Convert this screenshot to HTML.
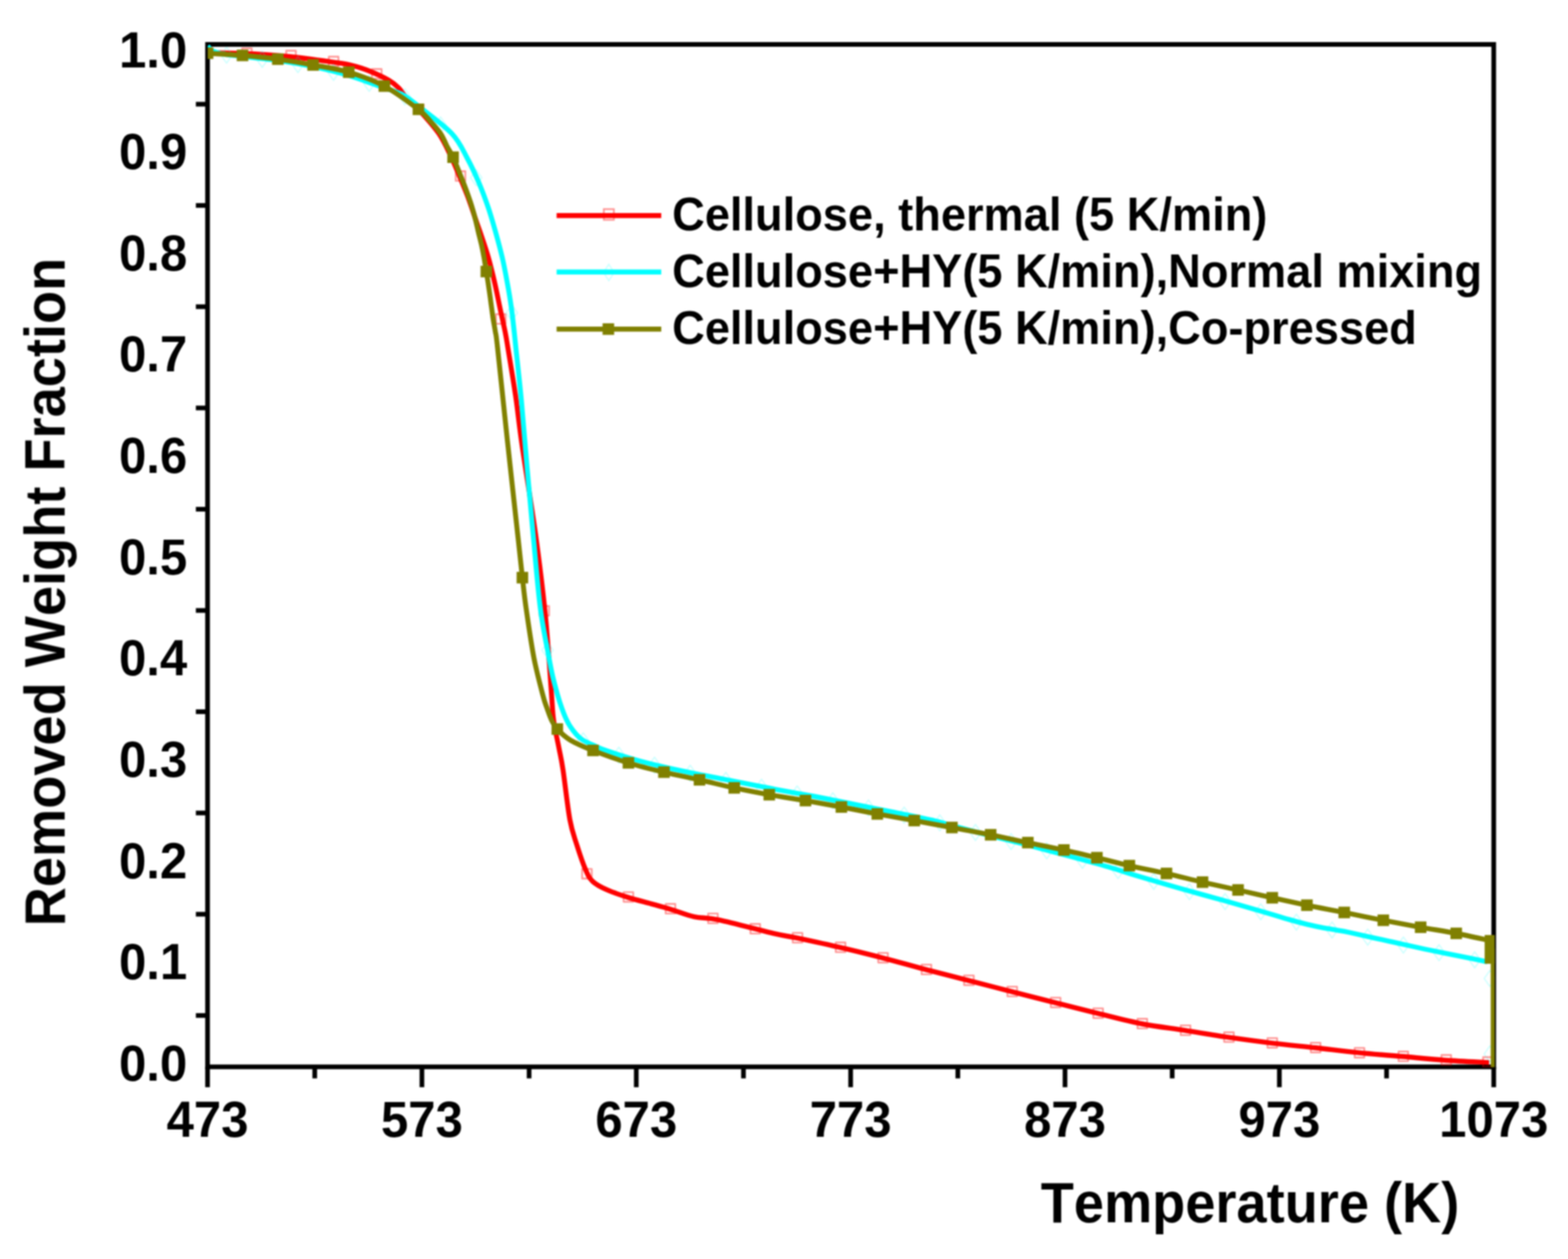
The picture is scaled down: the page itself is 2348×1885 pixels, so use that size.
<!DOCTYPE html>
<html lang="en">
<head>
<meta charset="utf-8">
<title>Removed Weight Fraction vs Temperature</title>
<style>
html,body{margin:0;padding:0;background:#fff;}
body{width:2348px;height:1885px;overflow:hidden;}
svg{display:block;}
</style>
</head>
<body>
<svg width="2348" height="1885" viewBox="0 0 2348 1885">
<rect x="0" y="0" width="2348" height="1885" fill="#fff"/>
<defs><filter id="soft" filterUnits="userSpaceOnUse" x="0" y="0" width="2348" height="1885" color-interpolation-filters="sRGB"><feGaussianBlur stdDeviation="0.8"/></filter></defs>
<g filter="url(#soft)">
<g stroke="#000" stroke-width="7.0" fill="none" stroke-linecap="butt">
<rect x="310.8" y="66.5" width="1926.0000000000002" height="1530.8"/>
<line x1="310.8" y1="1597.3" x2="310.8" y2="1627.8"/>
<line x1="471.3" y1="1597.3" x2="471.3" y2="1614.6"/>
<line x1="631.8" y1="1597.3" x2="631.8" y2="1627.8"/>
<line x1="792.3" y1="1597.3" x2="792.3" y2="1614.6"/>
<line x1="952.8" y1="1597.3" x2="952.8" y2="1627.8"/>
<line x1="1113.3" y1="1597.3" x2="1113.3" y2="1614.6"/>
<line x1="1273.8" y1="1597.3" x2="1273.8" y2="1627.8"/>
<line x1="1434.3" y1="1597.3" x2="1434.3" y2="1614.6"/>
<line x1="1594.8" y1="1597.3" x2="1594.8" y2="1627.8"/>
<line x1="1755.3" y1="1597.3" x2="1755.3" y2="1614.6"/>
<line x1="1915.8" y1="1597.3" x2="1915.8" y2="1627.8"/>
<line x1="2076.3" y1="1597.3" x2="2076.3" y2="1614.6"/>
<line x1="2236.8" y1="1597.3" x2="2236.8" y2="1627.8"/>
<line x1="293.3" y1="156.0" x2="310.8" y2="156.0"/>
<line x1="293.3" y1="307.6" x2="310.8" y2="307.6"/>
<line x1="293.3" y1="459.2" x2="310.8" y2="459.2"/>
<line x1="293.3" y1="610.8" x2="310.8" y2="610.8"/>
<line x1="293.3" y1="762.4" x2="310.8" y2="762.4"/>
<line x1="293.3" y1="914.0" x2="310.8" y2="914.0"/>
<line x1="293.3" y1="1065.6" x2="310.8" y2="1065.6"/>
<line x1="293.3" y1="1217.2" x2="310.8" y2="1217.2"/>
<line x1="293.3" y1="1368.8" x2="310.8" y2="1368.8"/>
<line x1="293.3" y1="1520.4" x2="310.8" y2="1520.4"/>
</g>
<defs><clipPath id="plot"><rect x="311.0" y="66.9" width="1927.1999999999998" height="1530.8"/></clipPath></defs>
<g clip-path="url(#plot)">
<g fill="none" stroke-linejoin="round" stroke-linecap="butt">
<path d="M308.0,78.5C317.2,78.8 347.7,79.4 363.0,80.0C378.3,80.6 388.2,81.2 400.0,82.0C411.8,82.8 422.4,83.7 433.6,84.8C444.8,85.9 458.4,87.5 467.0,88.6C475.6,89.7 476.2,89.8 485.5,91.2C494.8,92.6 511.5,94.3 522.6,96.8C533.7,99.3 542.4,102.1 552.3,106.0C562.2,109.9 574.6,115.8 582.0,120.0C589.4,124.2 593.0,127.8 596.8,131.5C600.6,135.2 602.5,139.0 605.0,142.0C607.5,145.0 608.5,146.0 612.0,149.5C615.5,153.0 618.5,154.6 626.0,163.0C633.5,171.4 648.8,187.9 657.1,200.0C665.4,212.1 670.6,224.8 675.7,235.3C680.8,245.8 683.7,253.5 687.7,263.1C691.7,272.7 695.6,281.7 699.8,292.8C704.0,303.9 709.5,320.6 712.8,329.9C716.0,339.2 716.2,339.1 719.3,348.4C722.4,357.7 727.8,373.1 731.3,385.5C734.8,397.9 737.8,410.2 740.6,422.6C743.5,435.0 745.8,447.3 748.4,459.7C751.0,472.1 754.4,486.8 756.4,496.8C758.4,506.9 757.8,504.0 760.4,520.0C763.0,536.0 768.5,568.3 772.1,592.8C775.7,617.3 776.8,632.5 781.8,667.0C786.8,701.5 796.4,759.3 802.0,800.0C807.6,840.7 812.4,880.4 815.7,911.3C819.0,942.2 820.3,963.9 822.0,985.5C823.7,1007.1 824.8,1025.7 826.0,1041.2C827.2,1056.7 827.2,1065.2 829.0,1078.3C830.8,1091.4 834.6,1107.6 837.0,1120.0C839.4,1132.4 840.4,1135.0 843.1,1152.8C845.8,1170.6 849.9,1208.5 853.3,1227.0C856.7,1245.5 859.6,1251.7 863.5,1264.1C867.4,1276.5 872.5,1291.9 876.5,1301.2C880.5,1310.5 882.0,1314.5 887.6,1319.7C893.2,1325.0 900.9,1328.7 909.9,1332.7C918.9,1336.7 930.6,1340.5 941.4,1343.9C952.2,1347.3 964.3,1350.2 974.8,1353.1C985.3,1356.0 993.7,1358.2 1004.5,1361.5C1015.3,1364.8 1027.7,1370.0 1039.7,1372.6C1051.8,1375.2 1056.8,1373.1 1076.8,1377.3C1096.8,1381.5 1140.5,1393.4 1160.0,1397.9C1179.5,1402.4 1177.3,1400.9 1193.8,1404.4C1210.2,1407.9 1237.3,1413.7 1258.7,1418.7C1280.1,1423.7 1300.9,1428.8 1322.3,1434.3C1343.7,1439.8 1365.9,1446.3 1387.3,1451.9C1408.7,1457.5 1429.5,1462.6 1450.9,1468.1C1472.3,1473.6 1494.2,1479.4 1515.8,1484.9C1537.4,1490.4 1559.4,1495.9 1580.8,1501.3C1602.2,1506.7 1622.8,1512.1 1644.4,1517.4C1666.0,1522.7 1688.8,1528.8 1710.6,1533.0C1732.4,1537.2 1753.7,1539.5 1775.3,1542.9C1796.9,1546.3 1818.6,1550.1 1840.3,1553.2C1862.0,1556.3 1883.6,1559.2 1905.2,1561.8C1926.8,1564.4 1948.4,1566.4 1970.1,1568.8C1991.8,1571.2 2013.4,1573.9 2035.1,1576.1C2056.8,1578.3 2078.4,1579.9 2100.0,1581.8C2121.6,1583.7 2143.2,1586.0 2164.9,1587.5C2186.6,1589.0 2219.1,1590.3 2229.9,1590.9" stroke="#ff0000" stroke-width="7.4"/>
<rect x="362.6" y="72.4" width="14.4" height="14.4" stroke="#ff0000" stroke-width="2.6" fill="none" opacity="0.42"/>
<rect x="428.6" y="75.9" width="14.4" height="14.4" stroke="#ff0000" stroke-width="2.6" fill="none" opacity="0.42"/>
<rect x="492.4" y="84.9" width="14.4" height="14.4" stroke="#ff0000" stroke-width="2.6" fill="none" opacity="0.42"/>
<rect x="557.0" y="103.4" width="14.4" height="14.4" stroke="#ff0000" stroke-width="2.6" fill="none" opacity="0.42"/>
<rect x="619.8" y="156.4" width="14.4" height="14.4" stroke="#ff0000" stroke-width="2.6" fill="none" opacity="0.42"/>
<rect x="682.4" y="256.4" width="14.4" height="14.4" stroke="#ff0000" stroke-width="2.6" fill="none" opacity="0.42"/>
<rect x="742.7" y="470.4" width="14.4" height="14.4" stroke="#ff0000" stroke-width="2.6" fill="none" opacity="0.42"/>
<rect x="807.8" y="907.4" width="14.4" height="14.4" stroke="#ff0000" stroke-width="2.6" fill="none" opacity="0.42"/>
<rect x="871.7" y="1301.0" width="14.4" height="14.4" stroke="#ff0000" stroke-width="2.6" fill="none" opacity="0.42"/>
<rect x="933.8" y="1335.7" width="14.4" height="14.4" stroke="#ff0000" stroke-width="2.6" fill="none" opacity="0.42"/>
<rect x="996.8" y="1353.4" width="14.4" height="14.4" stroke="#ff0000" stroke-width="2.6" fill="none" opacity="0.42"/>
<rect x="1060.4" y="1367.8" width="14.4" height="14.4" stroke="#ff0000" stroke-width="2.6" fill="none" opacity="0.42"/>
<rect x="1123.8" y="1383.4" width="14.4" height="14.4" stroke="#ff0000" stroke-width="2.6" fill="none" opacity="0.42"/>
<rect x="1187.1" y="1396.8" width="14.4" height="14.4" stroke="#ff0000" stroke-width="2.6" fill="none" opacity="0.42"/>
<rect x="1251.5" y="1411.1" width="14.4" height="14.4" stroke="#ff0000" stroke-width="2.6" fill="none" opacity="0.42"/>
<rect x="1315.1" y="1426.7" width="14.4" height="14.4" stroke="#ff0000" stroke-width="2.6" fill="none" opacity="0.42"/>
<rect x="1380.1" y="1444.3" width="14.4" height="14.4" stroke="#ff0000" stroke-width="2.6" fill="none" opacity="0.42"/>
<rect x="1443.7" y="1460.5" width="14.4" height="14.4" stroke="#ff0000" stroke-width="2.6" fill="none" opacity="0.42"/>
<rect x="1508.6" y="1477.3" width="14.4" height="14.4" stroke="#ff0000" stroke-width="2.6" fill="none" opacity="0.42"/>
<rect x="1573.6" y="1493.7" width="14.4" height="14.4" stroke="#ff0000" stroke-width="2.6" fill="none" opacity="0.42"/>
<rect x="1637.2" y="1509.8" width="14.4" height="14.4" stroke="#ff0000" stroke-width="2.6" fill="none" opacity="0.42"/>
<rect x="1703.4" y="1525.4" width="14.4" height="14.4" stroke="#ff0000" stroke-width="2.6" fill="none" opacity="0.42"/>
<rect x="1768.1" y="1535.3" width="14.4" height="14.4" stroke="#ff0000" stroke-width="2.6" fill="none" opacity="0.42"/>
<rect x="1833.1" y="1545.6" width="14.4" height="14.4" stroke="#ff0000" stroke-width="2.6" fill="none" opacity="0.42"/>
<rect x="1898.0" y="1554.2" width="14.4" height="14.4" stroke="#ff0000" stroke-width="2.6" fill="none" opacity="0.42"/>
<rect x="1962.9" y="1561.2" width="14.4" height="14.4" stroke="#ff0000" stroke-width="2.6" fill="none" opacity="0.42"/>
<rect x="2028.6" y="1569.0" width="14.4" height="14.4" stroke="#ff0000" stroke-width="2.6" fill="none" opacity="0.42"/>
<rect x="2094.2" y="1574.4" width="14.4" height="14.4" stroke="#ff0000" stroke-width="2.6" fill="none" opacity="0.42"/>
<rect x="2158.5" y="1579.6" width="14.4" height="14.4" stroke="#ff0000" stroke-width="2.6" fill="none" opacity="0.42"/>
<rect x="2220.8" y="1582.9" width="14.4" height="14.4" stroke="#ff0000" stroke-width="2.6" fill="none" opacity="0.42"/>
<path d="M311.0,69.0C312.2,70.2 314.0,74.0 318.0,76.0C322.0,78.0 327.5,79.6 335.0,81.0C342.5,82.4 348.8,82.8 363.0,84.5C377.2,86.2 402.2,88.4 420.0,91.0C437.8,93.6 453.0,96.3 470.0,100.0C487.0,103.7 504.5,107.8 522.0,113.0C539.5,118.2 563.7,127.6 575.0,131.5C586.3,135.4 585.0,134.6 590.0,136.5C595.0,138.4 599.0,139.3 605.0,143.0C611.0,146.7 614.1,149.0 626.0,158.5C637.9,168.0 664.3,186.9 676.6,200.0C688.9,213.1 693.0,224.7 699.8,237.1C706.6,249.5 712.1,261.8 717.4,274.2C722.6,286.6 727.1,298.9 731.3,311.3C735.5,323.7 738.9,336.0 742.4,348.4C745.9,360.8 749.2,373.1 752.1,385.5C755.0,397.9 757.2,410.2 759.5,422.6C761.8,435.0 763.9,447.3 765.6,459.7C767.4,472.1 768.9,486.8 770.0,496.8C771.1,506.9 770.6,502.8 772.4,520.0C774.2,537.2 778.0,570.0 780.8,600.0C783.6,630.0 786.3,665.8 789.3,700.0C792.3,734.2 795.5,769.8 798.8,805.0C802.1,840.2 805.3,881.2 809.2,911.3C813.1,941.4 819.1,968.5 822.2,985.5C825.3,1002.5 825.6,1004.1 827.8,1013.4C830.0,1022.7 833.0,1033.4 835.2,1041.2C837.4,1049.0 839.2,1054.4 841.2,1060.0C843.2,1065.6 844.9,1070.2 847.0,1074.8C849.1,1079.4 851.2,1083.6 853.8,1087.6C856.4,1091.6 859.5,1095.7 862.5,1099.0C865.5,1102.3 867.6,1104.7 872.0,1107.5C876.4,1110.3 882.7,1113.2 889.0,1116.0C895.3,1118.8 898.0,1120.5 909.9,1124.5C921.8,1128.5 941.8,1135.1 960.3,1140.0C978.8,1144.9 1000.5,1149.8 1020.6,1154.1C1040.7,1158.4 1060.8,1162.1 1080.9,1166.1C1101.0,1170.0 1128.1,1175.2 1141.3,1177.8C1154.5,1180.4 1146.9,1179.1 1160.0,1181.6C1173.1,1184.0 1200.0,1188.7 1220.0,1192.5C1240.0,1196.3 1260.0,1200.5 1280.0,1204.5C1300.0,1208.5 1320.0,1212.4 1340.0,1216.5C1360.0,1220.6 1386.7,1226.0 1400.0,1229.0C1413.3,1232.0 1406.7,1230.9 1420.0,1234.5C1433.3,1238.1 1460.0,1245.3 1480.0,1250.5C1500.0,1255.7 1520.0,1260.3 1540.0,1265.5C1560.0,1270.7 1580.0,1276.1 1600.0,1281.5C1620.0,1286.9 1643.3,1293.2 1660.0,1298.0C1676.7,1302.8 1682.5,1305.2 1700.0,1310.5C1717.5,1315.8 1743.3,1323.3 1765.0,1329.5C1786.7,1335.7 1808.3,1341.4 1830.0,1347.5C1851.7,1353.6 1878.3,1361.4 1895.0,1366.2C1911.7,1371.0 1920.0,1373.7 1930.0,1376.6C1940.0,1379.5 1947.5,1381.5 1955.0,1383.4C1962.5,1385.3 1967.5,1386.3 1975.0,1387.8C1982.5,1389.3 1992.5,1391.0 2000.0,1392.4C2007.5,1393.8 2006.9,1393.2 2020.3,1396.0C2033.7,1398.8 2060.5,1404.9 2080.6,1409.3C2100.7,1413.7 2120.8,1418.3 2140.9,1422.5C2161.0,1426.7 2186.9,1431.7 2201.3,1434.6C2215.7,1437.5 2223.0,1439.1 2227.3,1440.0" stroke="#00ffff" stroke-width="7.4"/>
<path d="M339.3,70.5 L347.8,82.5 L339.3,94.5 L330.8,82.5 Z" stroke="#00ffff" stroke-width="2.0" fill="none" opacity="0.2"/>
<path d="M392.7,76.9 L401.2,88.9 L392.7,100.9 L384.2,88.9 Z" stroke="#00ffff" stroke-width="2.0" fill="none" opacity="0.2"/>
<path d="M446.1,84.7 L454.6,96.7 L446.1,108.7 L437.6,96.7 Z" stroke="#00ffff" stroke-width="2.0" fill="none" opacity="0.2"/>
<path d="M499.5,96.4 L508.0,108.4 L499.5,120.4 L491.0,108.4 Z" stroke="#00ffff" stroke-width="2.0" fill="none" opacity="0.2"/>
<path d="M552.9,112.8 L561.4,124.8 L552.9,136.8 L544.4,124.8 Z" stroke="#00ffff" stroke-width="2.0" fill="none" opacity="0.2"/>
<path d="M606.3,133.0 L614.8,145.0 L606.3,157.0 L597.8,145.0 Z" stroke="#00ffff" stroke-width="2.0" fill="none" opacity="0.2"/>
<path d="M659.7,175.1 L668.2,187.1 L659.7,199.1 L651.2,187.1 Z" stroke="#00ffff" stroke-width="2.0" fill="none" opacity="0.2"/>
<path d="M713.1,254.1 L721.6,266.1 L713.1,278.1 L704.6,266.1 Z" stroke="#00ffff" stroke-width="2.0" fill="none" opacity="0.2"/>
<path d="M766.5,456.3 L775.0,468.3 L766.5,480.3 L758.0,468.3 Z" stroke="#00ffff" stroke-width="2.0" fill="none" opacity="0.2"/>
<path d="M819.9,961.4 L828.4,973.4 L819.9,985.4 L811.4,973.4 Z" stroke="#00ffff" stroke-width="2.0" fill="none" opacity="0.2"/>
<path d="M873.3,1097.2 L881.8,1109.2 L873.3,1121.2 L864.8,1109.2 Z" stroke="#00ffff" stroke-width="2.0" fill="none" opacity="0.2"/>
<path d="M926.7,1118.7 L935.2,1130.7 L926.7,1142.7 L918.2,1130.7 Z" stroke="#00ffff" stroke-width="2.0" fill="none" opacity="0.2"/>
<path d="M980.1,1133.6 L988.6,1145.6 L980.1,1157.6 L971.6,1145.6 Z" stroke="#00ffff" stroke-width="2.0" fill="none" opacity="0.2"/>
<path d="M1033.5,1145.7 L1042.0,1157.7 L1033.5,1169.7 L1025.0,1157.7 Z" stroke="#00ffff" stroke-width="2.0" fill="none" opacity="0.2"/>
<path d="M1086.9,1156.3 L1095.4,1168.3 L1086.9,1180.3 L1078.4,1168.3 Z" stroke="#00ffff" stroke-width="2.0" fill="none" opacity="0.2"/>
<path d="M1140.3,1166.6 L1148.8,1178.6 L1140.3,1190.6 L1131.8,1178.6 Z" stroke="#00ffff" stroke-width="2.0" fill="none" opacity="0.2"/>
<path d="M1193.7,1176.7 L1202.2,1188.7 L1193.7,1200.7 L1185.2,1188.7 Z" stroke="#00ffff" stroke-width="2.0" fill="none" opacity="0.2"/>
<path d="M1247.1,1186.9 L1255.6,1198.9 L1247.1,1210.9 L1238.6,1198.9 Z" stroke="#00ffff" stroke-width="2.0" fill="none" opacity="0.2"/>
<path d="M1300.5,1197.6 L1309.0,1209.6 L1300.5,1221.6 L1292.0,1209.6 Z" stroke="#00ffff" stroke-width="2.0" fill="none" opacity="0.2"/>
<path d="M1353.9,1208.4 L1362.4,1220.4 L1353.9,1232.4 L1345.4,1220.4 Z" stroke="#00ffff" stroke-width="2.0" fill="none" opacity="0.2"/>
<path d="M1407.3,1220.0 L1415.8,1232.0 L1407.3,1244.0 L1398.8,1232.0 Z" stroke="#00ffff" stroke-width="2.0" fill="none" opacity="0.2"/>
<path d="M1460.7,1234.4 L1469.2,1246.4 L1460.7,1258.4 L1452.2,1246.4 Z" stroke="#00ffff" stroke-width="2.0" fill="none" opacity="0.2"/>
<path d="M1514.1,1248.0 L1522.6,1260.0 L1514.1,1272.0 L1505.6,1260.0 Z" stroke="#00ffff" stroke-width="2.0" fill="none" opacity="0.2"/>
<path d="M1567.5,1261.8 L1576.0,1273.8 L1567.5,1285.8 L1559.0,1273.8 Z" stroke="#00ffff" stroke-width="2.0" fill="none" opacity="0.2"/>
<path d="M1620.9,1276.2 L1629.4,1288.2 L1620.9,1300.2 L1612.4,1288.2 Z" stroke="#00ffff" stroke-width="2.0" fill="none" opacity="0.2"/>
<path d="M1674.3,1291.5 L1682.8,1303.5 L1674.3,1315.5 L1665.8,1303.5 Z" stroke="#00ffff" stroke-width="2.0" fill="none" opacity="0.2"/>
<path d="M1727.7,1307.6 L1736.2,1319.6 L1727.7,1331.6 L1719.2,1319.6 Z" stroke="#00ffff" stroke-width="2.0" fill="none" opacity="0.2"/>
<path d="M1781.1,1323.0 L1789.6,1335.0 L1781.1,1347.0 L1772.6,1335.0 Z" stroke="#00ffff" stroke-width="2.0" fill="none" opacity="0.2"/>
<path d="M1834.5,1337.8 L1843.0,1349.8 L1834.5,1361.8 L1826.0,1349.8 Z" stroke="#00ffff" stroke-width="2.0" fill="none" opacity="0.2"/>
<path d="M1887.9,1353.2 L1896.4,1365.2 L1887.9,1377.2 L1879.4,1365.2 Z" stroke="#00ffff" stroke-width="2.0" fill="none" opacity="0.2"/>
<path d="M1941.3,1368.7 L1949.8,1380.7 L1941.3,1392.7 L1932.8,1380.7 Z" stroke="#00ffff" stroke-width="2.0" fill="none" opacity="0.2"/>
<path d="M1994.7,1380.4 L2003.2,1392.4 L1994.7,1404.4 L1986.2,1392.4 Z" stroke="#00ffff" stroke-width="2.0" fill="none" opacity="0.2"/>
<path d="M2048.1,1391.1 L2056.6,1403.1 L2048.1,1415.1 L2039.6,1403.1 Z" stroke="#00ffff" stroke-width="2.0" fill="none" opacity="0.2"/>
<path d="M2101.5,1402.9 L2110.0,1414.9 L2101.5,1426.9 L2093.0,1414.9 Z" stroke="#00ffff" stroke-width="2.0" fill="none" opacity="0.2"/>
<path d="M2154.9,1414.3 L2163.4,1426.3 L2154.9,1438.3 L2146.4,1426.3 Z" stroke="#00ffff" stroke-width="2.0" fill="none" opacity="0.2"/>
<path d="M2208.3,1425.1 L2216.8,1437.1 L2208.3,1449.1 L2199.8,1437.1 Z" stroke="#00ffff" stroke-width="2.0" fill="none" opacity="0.2"/>
<path d="M2231.0,1453.0 L2239.5,1465.0 L2231.0,1477.0 L2222.5,1465.0 Z" stroke="#00ffff" stroke-width="2.0" fill="none" opacity="0.2"/>
<path d="M2231.0,1566.0 L2239.5,1578.0 L2231.0,1590.0 L2222.5,1578.0 Z" stroke="#00ffff" stroke-width="2.0" fill="none" opacity="0.2"/>
<path d="M308.0,79.5C317.2,80.1 345.1,81.5 363.1,83.0C381.1,84.5 398.4,86.2 416.0,88.6C433.6,91.0 451.1,94.0 468.8,97.3C486.5,100.5 504.5,102.8 522.3,108.1C540.1,113.4 558.1,119.6 575.5,128.9C592.9,138.2 615.1,155.0 626.5,163.7C637.9,172.4 638.4,174.9 644.0,181.0C649.6,187.1 655.7,193.7 659.9,200.0C664.1,206.3 666.1,212.7 669.2,218.6C672.3,224.5 675.5,229.1 678.4,235.3C681.3,241.5 684.2,249.2 686.8,255.7C689.4,262.2 691.8,268.0 694.2,274.2C696.6,280.4 698.9,286.6 701.1,292.8C703.3,299.0 705.4,305.1 707.2,311.3C709.1,317.5 710.7,323.7 712.2,329.9C713.8,336.1 715.0,342.2 716.5,348.4C718.0,354.6 719.7,360.8 721.1,367.0C722.5,373.2 723.6,378.9 724.8,385.5C726.0,392.1 727.2,400.3 728.2,406.5C729.2,412.7 729.9,416.8 730.8,422.6C731.7,428.4 732.6,435.0 733.5,441.2C734.4,447.4 735.1,453.5 736.0,459.7C736.9,465.9 737.6,472.1 738.6,478.3C739.6,484.5 740.7,489.9 741.8,496.8C742.9,503.8 742.0,492.9 745.0,520.0C748.0,547.1 754.6,611.3 759.8,659.6C765.0,707.9 772.5,775.8 776.3,810.0C780.0,844.2 780.4,848.0 782.3,864.9C784.2,881.8 785.0,891.2 787.9,911.3C790.8,931.4 795.4,963.9 799.6,985.5C803.8,1007.1 809.8,1028.8 813.0,1041.2C816.2,1053.6 816.8,1053.8 819.0,1060.0C821.2,1066.2 823.4,1073.0 826.0,1078.3C828.6,1083.6 829.8,1086.6 834.5,1091.6C839.2,1096.6 845.3,1102.9 854.2,1108.2C863.1,1113.5 873.5,1117.9 888.0,1123.6C902.5,1129.3 923.3,1136.8 941.0,1142.2C958.7,1147.6 976.5,1151.9 994.3,1156.1C1012.0,1160.3 1030.0,1163.7 1047.5,1167.6C1065.0,1171.5 1082.1,1176.0 1099.5,1179.7C1116.9,1183.4 1134.2,1186.7 1152.0,1189.9C1169.8,1193.1 1188.2,1195.6 1206.2,1198.7C1224.2,1201.8 1242.1,1205.0 1260.0,1208.3C1277.9,1211.6 1295.6,1215.3 1313.8,1218.7C1332.0,1222.1 1350.5,1225.2 1369.1,1228.6C1387.7,1232.0 1406.5,1235.5 1425.5,1239.0C1444.5,1242.5 1464.5,1246.1 1483.4,1249.9C1502.4,1253.7 1520.9,1257.8 1539.2,1261.6C1557.5,1265.4 1576.0,1268.9 1593.2,1272.7C1610.4,1276.5 1626.3,1280.3 1642.6,1284.2C1658.9,1288.1 1673.8,1292.2 1691.2,1296.1C1708.6,1300.0 1728.5,1303.7 1746.8,1307.8C1765.1,1311.9 1782.9,1316.7 1800.8,1320.8C1818.7,1324.9 1836.6,1328.6 1854.0,1332.5C1871.4,1336.4 1888.0,1340.4 1905.2,1344.2C1922.4,1348.0 1939.1,1351.6 1957.1,1355.3C1975.1,1359.0 1994.0,1362.4 2013.0,1366.2C2032.0,1370.0 2052.3,1374.2 2071.4,1377.9C2090.5,1381.6 2109.1,1385.0 2127.3,1388.3C2145.5,1391.6 2163.3,1394.1 2180.7,1397.5C2198.1,1400.9 2223.4,1406.7 2231.9,1408.5" stroke="#808000" stroke-width="7.4"/>
<path d="M2236,1420 L2236,1600" stroke="#808000" stroke-width="7.4"/>
</g>
<rect x="302.2" y="71.0" width="17.3" height="17.3" fill="#808000"/>
<rect x="354.5" y="74.3" width="17.3" height="17.3" fill="#808000"/>
<rect x="407.4" y="79.9" width="17.3" height="17.3" fill="#808000"/>
<rect x="460.2" y="88.6" width="17.3" height="17.3" fill="#808000"/>
<rect x="513.6" y="99.4" width="17.3" height="17.3" fill="#808000"/>
<rect x="566.9" y="120.2" width="17.3" height="17.3" fill="#808000"/>
<rect x="617.9" y="155.0" width="17.3" height="17.3" fill="#808000"/>
<rect x="669.8" y="226.7" width="17.3" height="17.3" fill="#808000"/>
<rect x="719.6" y="397.9" width="17.3" height="17.3" fill="#808000"/>
<rect x="773.6" y="856.2" width="17.3" height="17.3" fill="#808000"/>
<rect x="825.9" y="1082.9" width="17.3" height="17.3" fill="#808000"/>
<rect x="879.4" y="1114.9" width="17.3" height="17.3" fill="#808000"/>
<rect x="932.4" y="1133.5" width="17.3" height="17.3" fill="#808000"/>
<rect x="985.6" y="1147.4" width="17.3" height="17.3" fill="#808000"/>
<rect x="1038.8" y="1158.9" width="17.3" height="17.3" fill="#808000"/>
<rect x="1090.8" y="1171.0" width="17.3" height="17.3" fill="#808000"/>
<rect x="1143.3" y="1181.2" width="17.3" height="17.3" fill="#808000"/>
<rect x="1197.5" y="1190.0" width="17.3" height="17.3" fill="#808000"/>
<rect x="1251.3" y="1199.6" width="17.3" height="17.3" fill="#808000"/>
<rect x="1305.1" y="1210.0" width="17.3" height="17.3" fill="#808000"/>
<rect x="1360.4" y="1219.9" width="17.3" height="17.3" fill="#808000"/>
<rect x="1416.8" y="1230.3" width="17.3" height="17.3" fill="#808000"/>
<rect x="1474.8" y="1241.2" width="17.3" height="17.3" fill="#808000"/>
<rect x="1530.5" y="1252.9" width="17.3" height="17.3" fill="#808000"/>
<rect x="1584.5" y="1264.0" width="17.3" height="17.3" fill="#808000"/>
<rect x="1633.9" y="1275.5" width="17.3" height="17.3" fill="#808000"/>
<rect x="1682.5" y="1287.4" width="17.3" height="17.3" fill="#808000"/>
<rect x="1738.1" y="1299.1" width="17.3" height="17.3" fill="#808000"/>
<rect x="1792.1" y="1312.1" width="17.3" height="17.3" fill="#808000"/>
<rect x="1845.3" y="1323.8" width="17.3" height="17.3" fill="#808000"/>
<rect x="1896.5" y="1335.5" width="17.3" height="17.3" fill="#808000"/>
<rect x="1948.4" y="1346.6" width="17.3" height="17.3" fill="#808000"/>
<rect x="2004.3" y="1357.5" width="17.3" height="17.3" fill="#808000"/>
<rect x="2062.8" y="1369.2" width="17.3" height="17.3" fill="#808000"/>
<rect x="2118.7" y="1379.6" width="17.3" height="17.3" fill="#808000"/>
<rect x="2172.0" y="1388.8" width="17.3" height="17.3" fill="#808000"/>
<rect x="2223.2" y="1399.9" width="20" height="43" fill="#808000"/>
</g>
<line x1="833.5" y1="322.7" x2="990.2" y2="322.7" stroke="#ff0000" stroke-width="7.4"/>
<rect x="904.2" y="313.09999999999997" width="15" height="16" stroke="#ff0000" stroke-width="2.6" fill="none" opacity="0.42"/>
<line x1="833.5" y1="407.2" x2="990.2" y2="407.2" stroke="#00ffff" stroke-width="7.4"/>
<path d="M911.7,395.7 L919.7,408.0 L911.7,420.2 L903.7,408.0 Z" stroke="#00ffff" stroke-width="2.0" fill="none" opacity="0.2"/>
<line x1="833.5" y1="492.7" x2="990.2" y2="492.7" stroke="#808000" stroke-width="7.4"/>
<rect x="902.35" y="484.05" width="17.3" height="17.3" fill="#808000"/>
<text transform="translate(1006.50,345.20) scale(1,1.035)" text-anchor="start" font-family="'Liberation Sans', Arial, Helvetica, sans-serif" font-weight="bold" style="font-kerning:none" font-size="67.7" fill="#000" xml:space="preserve">Cellulose, thermal (5 K/min)</text>
<text transform="translate(1006.50,429.70) scale(1,1.035)" text-anchor="start" font-family="'Liberation Sans', Arial, Helvetica, sans-serif" font-weight="bold" style="font-kerning:none" font-size="67.7" fill="#000" xml:space="preserve">Cellulose+HY(5 K/min),Normal mixing</text>
<text transform="translate(1006.50,515.20) scale(1,1.035)" text-anchor="start" font-family="'Liberation Sans', Arial, Helvetica, sans-serif" font-weight="bold" style="font-kerning:none" font-size="67.7" fill="#000" xml:space="preserve">Cellulose+HY(5 K/min),Co-pressed</text>
<text transform="translate(310.80,1702.50) scale(1,1.035)" text-anchor="middle" font-family="'Liberation Sans', Arial, Helvetica, sans-serif" font-weight="bold" style="font-kerning:none" font-size="73.5" fill="#000" xml:space="preserve">473</text>
<text transform="translate(631.80,1702.50) scale(1,1.035)" text-anchor="middle" font-family="'Liberation Sans', Arial, Helvetica, sans-serif" font-weight="bold" style="font-kerning:none" font-size="73.5" fill="#000" xml:space="preserve">573</text>
<text transform="translate(952.80,1702.50) scale(1,1.035)" text-anchor="middle" font-family="'Liberation Sans', Arial, Helvetica, sans-serif" font-weight="bold" style="font-kerning:none" font-size="73.5" fill="#000" xml:space="preserve">673</text>
<text transform="translate(1273.80,1702.50) scale(1,1.035)" text-anchor="middle" font-family="'Liberation Sans', Arial, Helvetica, sans-serif" font-weight="bold" style="font-kerning:none" font-size="73.5" fill="#000" xml:space="preserve">773</text>
<text transform="translate(1594.80,1702.50) scale(1,1.035)" text-anchor="middle" font-family="'Liberation Sans', Arial, Helvetica, sans-serif" font-weight="bold" style="font-kerning:none" font-size="73.5" fill="#000" xml:space="preserve">873</text>
<text transform="translate(1915.80,1702.50) scale(1,1.035)" text-anchor="middle" font-family="'Liberation Sans', Arial, Helvetica, sans-serif" font-weight="bold" style="font-kerning:none" font-size="73.5" fill="#000" xml:space="preserve">973</text>
<text transform="translate(2236.80,1702.50) scale(1,1.035)" text-anchor="middle" font-family="'Liberation Sans', Arial, Helvetica, sans-serif" font-weight="bold" style="font-kerning:none" font-size="73.5" fill="#000" xml:space="preserve">1073</text>
<text transform="translate(280.30,101.40) scale(1,1.035)" text-anchor="end" font-family="'Liberation Sans', Arial, Helvetica, sans-serif" font-weight="bold" style="font-kerning:none" font-size="73.5" fill="#000" xml:space="preserve">1.0</text>
<text transform="translate(280.30,253.05) scale(1,1.035)" text-anchor="end" font-family="'Liberation Sans', Arial, Helvetica, sans-serif" font-weight="bold" style="font-kerning:none" font-size="73.5" fill="#000" xml:space="preserve">0.9</text>
<text transform="translate(280.30,404.70) scale(1,1.035)" text-anchor="end" font-family="'Liberation Sans', Arial, Helvetica, sans-serif" font-weight="bold" style="font-kerning:none" font-size="73.5" fill="#000" xml:space="preserve">0.8</text>
<text transform="translate(280.30,556.35) scale(1,1.035)" text-anchor="end" font-family="'Liberation Sans', Arial, Helvetica, sans-serif" font-weight="bold" style="font-kerning:none" font-size="73.5" fill="#000" xml:space="preserve">0.7</text>
<text transform="translate(280.30,708.00) scale(1,1.035)" text-anchor="end" font-family="'Liberation Sans', Arial, Helvetica, sans-serif" font-weight="bold" style="font-kerning:none" font-size="73.5" fill="#000" xml:space="preserve">0.6</text>
<text transform="translate(280.30,859.65) scale(1,1.035)" text-anchor="end" font-family="'Liberation Sans', Arial, Helvetica, sans-serif" font-weight="bold" style="font-kerning:none" font-size="73.5" fill="#000" xml:space="preserve">0.5</text>
<text transform="translate(280.30,1011.30) scale(1,1.035)" text-anchor="end" font-family="'Liberation Sans', Arial, Helvetica, sans-serif" font-weight="bold" style="font-kerning:none" font-size="73.5" fill="#000" xml:space="preserve">0.4</text>
<text transform="translate(280.30,1162.95) scale(1,1.035)" text-anchor="end" font-family="'Liberation Sans', Arial, Helvetica, sans-serif" font-weight="bold" style="font-kerning:none" font-size="73.5" fill="#000" xml:space="preserve">0.3</text>
<text transform="translate(280.30,1314.60) scale(1,1.035)" text-anchor="end" font-family="'Liberation Sans', Arial, Helvetica, sans-serif" font-weight="bold" style="font-kerning:none" font-size="73.5" fill="#000" xml:space="preserve">0.2</text>
<text transform="translate(280.30,1466.25) scale(1,1.035)" text-anchor="end" font-family="'Liberation Sans', Arial, Helvetica, sans-serif" font-weight="bold" style="font-kerning:none" font-size="73.5" fill="#000" xml:space="preserve">0.1</text>
<text transform="translate(280.30,1617.90) scale(1,1.035)" text-anchor="end" font-family="'Liberation Sans', Arial, Helvetica, sans-serif" font-weight="bold" style="font-kerning:none" font-size="73.5" fill="#000" xml:space="preserve">0.0</text>
<text transform="translate(1558.50,1830.00) scale(1,1.055)" text-anchor="start" font-family="'Liberation Sans', Arial, Helvetica, sans-serif" font-weight="bold" style="font-kerning:none" font-size="81.15" fill="#000" xml:space="preserve">Temperature (K)</text>
<text transform="translate(97.00,1386.80) rotate(-90) scale(1,1.055)" text-anchor="start" font-family="'Liberation Sans', Arial, Helvetica, sans-serif" font-weight="bold" style="font-kerning:none" font-size="81.15" fill="#000" xml:space="preserve">Removed Weight Fraction</text>
</g>
</svg>
</body>
</html>
